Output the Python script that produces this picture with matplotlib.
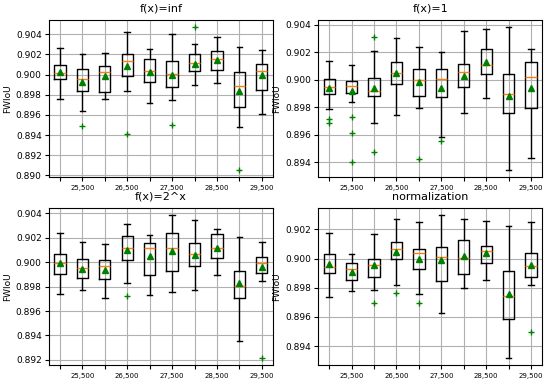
import numpy as np
import matplotlib
matplotlib.use('Agg')
import matplotlib.pyplot as plt
from matplotlib.ticker import FormatStrFormatter, MultipleLocator

# window sizes (x axis)
configs = [25000, 25500, 26000, 26500, 27000, 27500, 28000, 28500, 29000, 29500]
titles = ['f(x)=inf', 'f(x)=1', 'f(x)=2^x', 'normalization']

# f(x)=inf
inf_whislo = [0.89758, 0.89638, 0.89758, 0.89837, 0.89721, 0.89748, 0.89893, 0.89920, 0.89480, 0.89609]
inf_q1 = [0.89953, 0.89840, 0.89824, 0.89990, 0.89926, 0.89877, 0.90039, 0.90049, 0.89675, 0.89844]
inf_med = [0.90016, 0.89956, 0.90029, 0.90135, 0.90036, 0.90003, 0.90112, 0.90152, 0.89883, 0.90033]
inf_q3 = [0.90099, 0.90056, 0.90082, 0.90205, 0.90158, 0.90132, 0.90205, 0.90231, 0.90026, 0.90109]
inf_whishi = [0.90264, 0.90205, 0.90215, 0.90420, 0.90251, 0.90407, 0.90301, 0.90370, 0.90277, 0.90248]
inf_mean = [0.90022, 0.89930, 0.89983, 0.90089, 0.90030, 0.90000, 0.90105, 0.90148, 0.89837, 0.89996]
inf_fliers = [[], [0.89489], [], [0.89407], [], [0.89496], [0.90470], [], [0.89056], []]

# f(x)=1
one_whislo = [0.89787, 0.89836, 0.89686, 0.89744, 0.89792, 0.89582, 0.89758, 0.89867, 0.89347, 0.89434]
one_q1 = [0.89899, 0.89906, 0.89880, 0.89971, 0.89880, 0.89872, 0.89950, 0.90042, 0.89756, 0.89792]
one_med = [0.89945, 0.89957, 0.89915, 0.90049, 0.89996, 0.90008, 0.90059, 0.90107, 0.89900, 0.90020]
one_q3 = [0.90005, 0.89991, 0.90013, 0.90129, 0.90080, 0.90080, 0.90114, 0.90221, 0.90040, 0.90129]
one_whishi = [0.90134, 0.90105, 0.90206, 0.90305, 0.90235, 0.90204, 0.90352, 0.90371, 0.90381, 0.90225]
one_mean = [0.89940, 0.89921, 0.89938, 0.90046, 0.89981, 0.89938, 0.90030, 0.90126, 0.89884, 0.89940]
one_fliers = [[0.89715, 0.89685], [0.89732, 0.89611, 0.89402], [0.90313, 0.89473], [],
              [0.89424], [0.89553], [], [], [], []]

# f(x)=2^x
pow_whislo = [0.89739, 0.89769, 0.89706, 0.89826, 0.89733, 0.89758, 0.89771, 0.89897, 0.89352, 0.89850]
pow_q1 = [0.89902, 0.89872, 0.89864, 0.90016, 0.89897, 0.89924, 0.89970, 0.90035, 0.89705, 0.89910]
pow_med = [0.89997, 0.89951, 0.89965, 0.90117, 0.90114, 0.90117, 0.90065, 0.90117, 0.89807, 0.89997]
pow_q3 = [0.90071, 0.90027, 0.90016, 0.90213, 0.90161, 0.90242, 0.90161, 0.90234, 0.89932, 0.90044]
pow_whishi = [0.90242, 0.90169, 0.90150, 0.90313, 0.90226, 0.90384, 0.90348, 0.90275, 0.90207, 0.90169]
pow_mean = [0.89997, 0.89948, 0.89937, 0.90098, 0.90049, 0.90090, 0.90063, 0.90117, 0.89829, 0.89959]
pow_fliers = [[], [], [], [0.89725], [], [], [], [], [], [0.89216]]

# normalization
nrm_whislo = [0.89734, 0.89777, 0.89782, 0.89820, 0.89754, 0.89624, 0.89800, 0.89853, 0.89320, 0.89816]
nrm_q1 = [0.89898, 0.89855, 0.89875, 0.89994, 0.89926, 0.89846, 0.89896, 0.89971, 0.89587, 0.89871]
nrm_med = [0.89944, 0.89926, 0.89955, 0.90067, 0.90038, 0.90013, 0.90003, 0.90049, 0.89743, 0.89949]
nrm_q3 = [0.90031, 0.89969, 0.89999, 0.90111, 0.90067, 0.90079, 0.90127, 0.90088, 0.89917, 0.90040]
nrm_whishi = [0.90175, 0.90031, 0.90166, 0.90273, 0.90253, 0.90296, 0.90273, 0.90259, 0.90223, 0.90250]
nrm_mean = [0.89962, 0.89907, 0.89953, 0.90042, 0.89998, 0.89990, 0.90015, 0.90035, 0.89754, 0.89958]
nrm_fliers = [[], [], [0.89695], [0.89766], [0.89695], [], [], [], [], [0.89498]]

panels = [
    (inf_whislo, inf_q1, inf_med, inf_q3, inf_whishi, inf_mean, inf_fliers),
    (one_whislo, one_q1, one_med, one_q3, one_whishi, one_mean, one_fliers),
    (pow_whislo, pow_q1, pow_med, pow_q3, pow_whishi, pow_mean, pow_fliers),
    (nrm_whislo, nrm_q1, nrm_med, nrm_q3, nrm_whishi, nrm_mean, nrm_fliers),
]

xlabels = [format(c, ',') if i % 2 == 1 else '' for i, c in enumerate(configs)]

fig, axes = plt.subplots(2, 2, figsize=(5.5, 3.86), dpi=100)
plt.subplots_adjust(left=0.0885, right=0.986, bottom=0.0544, top=0.948,
                    wspace=0.2, hspace=0.2)

for ax, title, p in zip(axes.flat, titles, panels):
    whislo, q1, med, q3, whishi, mean, fliers = p
    stats = []
    for i in range(len(configs)):
        stats.append({'whislo': whislo[i], 'q1': q1[i], 'med': med[i], 'q3': q3[i],
                      'whishi': whishi[i], 'mean': mean[i], 'fliers': fliers[i]})
    ax.bxp(stats, showmeans=True,
           meanprops=dict(marker='^', markerfacecolor='green', markeredgecolor='green', markersize=5),
           flierprops=dict(marker='+', markeredgecolor='green', markersize=5, linestyle='none'))
    ax.set_xticks(range(1, len(configs) + 1))
    ax.set_xticklabels(xlabels, fontsize=5)
    ax.yaxis.set_major_locator(MultipleLocator(0.002))
    ax.yaxis.set_major_formatter(FormatStrFormatter('%.3f'))
    ax.tick_params(axis='y', labelsize=6.5, length=3, pad=2)
    ax.tick_params(axis='x', length=3, pad=3)
    ax.set_ylabel('FWIoU', fontsize=6.5, labelpad=3)
    ax.set_title(title, fontsize=8)
    ax.grid(True)

plt.savefig('out.png')
